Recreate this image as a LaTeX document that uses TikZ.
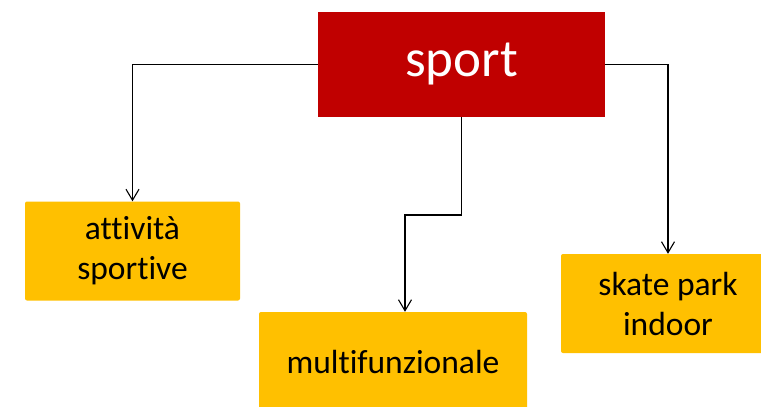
\documentclass[tikz,border=0pt]{standalone}
\usepackage{fontspec}
\setmainfont{Carlito}[Ligatures={NoCommon}]
\usetikzlibrary{arrows.meta,positioning}
\definecolor{SportRed}{HTML}{C00000}
\definecolor{LeafAmber}{HTML}{FFC000}
\tikzset{
  rootBox/.style={rectangle,fill=SportRed,text=white,minimum width=287pt,minimum height=105pt,
    font=\fontsize{53}{60}\selectfont,inner sep=0pt},
  leafBox/.style={rectangle,rounded corners=2pt,fill=LeafAmber,text=black,minimum height=99pt,
    align=center,font=\fontsize{33.5}{40}\selectfont,inner sep=0pt},
  link/.style={-{Straight Barb[length=11pt,width=13pt]},draw=black,line width=1.1pt}
}
\begin{document}
\begin{tikzpicture}[x=1pt,y=-1pt]
  \useasboundingbox (0,0) rectangle (761,407);
  % Root and its three branches
  \node[rootBox] (sport) at (461.5,64.5) {sport};
  \node[leafBox,minimum width=215pt] (attivita) at (132.5,251) {attività\\sportive};
  \node[leafBox,minimum width=268pt] (multi) at (393,361.5) {multifunzionale};
  \node[leafBox,minimum width=214pt] (skate) at (668,303.5) {skate park\\indoor};

  % Elbow connectors
  \coordinate (bend) at (405,215);
  \draw[link] (sport.west) -| (attivita.north);
  \draw[link] (sport.south) |- (bend) -- ([xshift=12pt]multi.north);
  \draw[link] (sport.east) -| (skate.north);
\end{tikzpicture}
\end{document}
